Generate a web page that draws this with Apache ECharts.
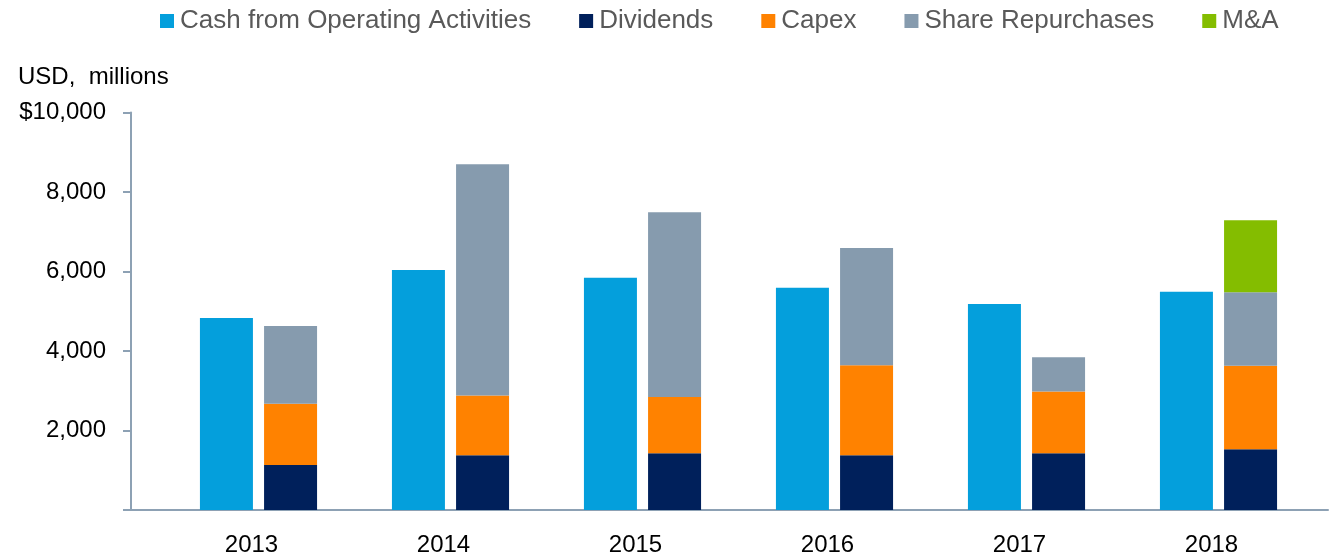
<!DOCTYPE html>
<html>
<head>
<meta charset="utf-8">
<script src="https://cdn.jsdelivr.net/npm/echarts@6/dist/echarts.min.js"></script>
<style>
  html, body { margin: 0; padding: 0; background: #fff; }
  #chart { width: 1330px; height: 554px; }
</style>
</head>
<body>
<div id="chart"></div>
<script>
// values, USD millions
var years = ['2013', '2014', '2015', '2016', '2017', '2018']
var cashFromOps = [4830, 6040, 5840, 5590, 5180, 5490]
var dividends = [1130, 1380, 1430, 1380, 1430, 1530]
var capex = [1540, 1500, 1410, 2260, 1550, 2100]
var repurchases = [1960, 5820, 4650, 2950, 860, 1850]
var mna = [0, 0, 0, 0, 0, 1810]
var yTicks = { min: 0, max: 10000, interval: 2000 }

var font = '"Liberation Sans", Arial, sans-serif'
var axisColor = '#8DA1B4'

var myEchart = echarts.init(document.getElementById('chart'))

function stackBar (name, data, color) {
  return {
    name: name,
    type: 'bar',
    stack: 'uses',
    xAxisIndex: 1,
    yAxisIndex: 1,
    barWidth: 53,
    barGap: '21%',
    itemStyle: { color: color },
    data: data
  }
}

var options = {
  animation: false,
  textStyle: { fontFamily: font },
  title: {
    text: 'USD,  millions',
    left: 13,
    top: 60,
    textStyle: { fontSize: 24, fontWeight: 'normal', color: '#000', fontFamily: font }
  },
  legend: {
    left: 155,
    top: 3,
    icon: 'rect',
    itemWidth: 14,
    itemHeight: 14,
    itemGap: 48,
    textStyle: { fontSize: 26, color: '#595959', padding: [0, 0, 0, 1] },
    data: ['Cash from Operating Activities', 'Dividends', 'Capex', 'Share Repurchases', 'M&A']
  },
  grid: [
    // frame grid: carries the axis lines
    { left: 131, right: 2, top: 112.5, bottom: 44, outerBoundsMode: 'none' },
    // bar grid: category bands
    { left: 162.5, right: 15.5, top: 112.5, bottom: 44, outerBoundsMode: 'none' }
  ],
  xAxis: [
    {
      gridIndex: 0,
      type: 'value',
      min: 0,
      max: 1,
      axisLine: { show: true, lineStyle: { color: axisColor, width: 2 } },
      axisTick: { show: false },
      axisLabel: { show: false },
      splitLine: { show: false }
    },
    {
      gridIndex: 1,
      type: 'category',
      data: years,
      axisLine: { show: false },
      axisTick: { show: false },
      axisLabel: {
        fontSize: 24,
        color: '#000',
        margin: 23,
        padding: [0, 14, 0, 0]
      }
    }
  ],
  yAxis: [
    {
      gridIndex: 0,
      type: 'value',
      min: yTicks.min,
      max: yTicks.max,
      interval: yTicks.interval,
      axisLine: { show: true, lineStyle: { color: axisColor, width: 2 } },
      axisTick: { show: true, inside: false, length: 8, lineStyle: { color: axisColor, width: 2 } },
      axisLabel: {
        fontSize: 24,
        color: '#000',
        margin: 25,
        formatter: function (v) {
          if (v === 0) return ''
          var s = v.toLocaleString('en-US')
          return v === yTicks.max ? '$' + s : s
        }
      },
      splitLine: { show: false }
    },
    {
      gridIndex: 1,
      type: 'value',
      min: yTicks.min,
      max: yTicks.max,
      show: false
    }
  ],
  series: [
    {
      name: 'Cash from Operating Activities',
      type: 'bar',
      xAxisIndex: 1,
      yAxisIndex: 1,
      barWidth: 53,
      barGap: '21%',
      itemStyle: { color: '#049FDC' },
      data: cashFromOps
    },
    stackBar('Dividends', dividends, '#00205B'),
    stackBar('Capex', capex, '#FF8200'),
    stackBar('Share Repurchases', repurchases, '#869BAE'),
    stackBar('M&A', mna, '#84BD00')
  ]
}
myEchart.setOption(options)
window.addEventListener('resize', function () { myEchart.resize() })
</script>
</body>
</html>
